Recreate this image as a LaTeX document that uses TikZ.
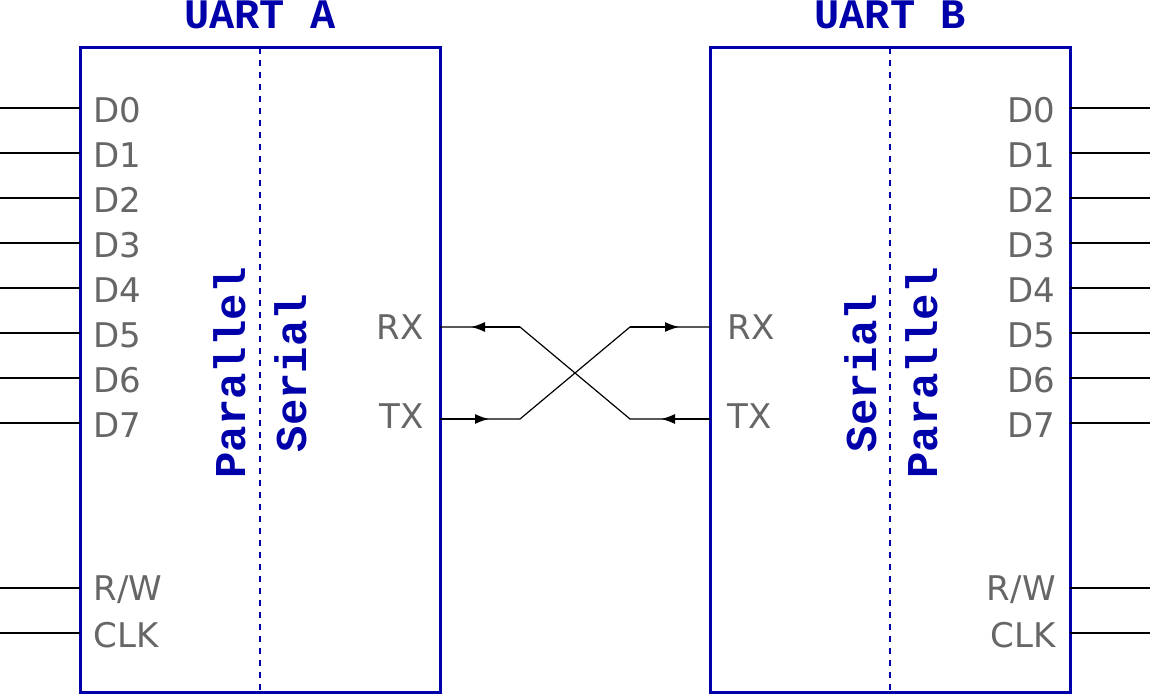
\documentclass[tikz,border=0pt]{standalone}
\usepackage{fontspec}
\setmainfont{DejaVu Sans}
\newfontfamily\monob{Liberation Mono}
\usetikzlibrary{arrows.meta}
\definecolor{uartblue}{RGB}{0, 0, 170}
\definecolor{pingray}{RGB}{102, 102, 102}
\tikzset{%
    uartbox/.style={draw=uartblue, line width=1.5pt},
    divider/.style={draw=uartblue, dashed, line width=0.9pt},
    pinlabel/.style={text=pingray, font=\fontsize{17}{17}\selectfont, inner sep=0pt},
    sidelabel/.style={text=uartblue, font=\monob\bfseries\fontsize{22}{22}\selectfont, rotate=90, inner sep=0pt},
    title/.style={text=uartblue, font=\monob\bfseries\fontsize{21}{21}\selectfont, inner sep=0pt, anchor=base},
    wire/.style={draw=black, line width=0.6pt},
    tip/.style={-{Latex[length=7pt, width=5pt]}}
}

\begin{document}
\begin{tikzpicture}[x=0.5pt, y=-0.5pt]
    \useasboundingbox (0, 0) rectangle (1150, 694);

    % UART A
    \draw[uartbox] (80, 48) rectangle (440, 692);
    \draw[divider] (260, 48) -- (260, 692);
    \node[title] (title-a) at (260, 29) {UART A};
    \node[sidelabel] (par-a) at (230, 373) {Parallel};
    \node[sidelabel] (ser-a) at (291, 373) {Serial};
    \foreach \val in {0, ..., 7}{%
        \coordinate (a-d\val) at (80, 108+\val*45);
        \coordinate (a-e\val) at (0, 108+\val*45);
        \node[pinlabel, anchor=west] at (93, 110+\val*45) {D\val};
        \draw[wire] (a-e\val) -- (a-d\val);
    };
    \foreach \val/\name/\txt in {588/rw/{R/W}, 633/clk/CLK}{%
        \coordinate (a-\name) at (80, \val);
        \coordinate (a-\name-end) at (0, \val);
        \node[pinlabel, anchor=west] at (93, \val+2) {\txt};
        \draw[wire] (a-\name-end) -- (a-\name);
    };
    \node[pinlabel, anchor=east] (a-rx-label) at (424, 327) {RX};
    \node[pinlabel, anchor=east] (a-tx-label) at (424, 416) {TX};
    \coordinate (a-rx) at (440, 327);
    \coordinate (a-tx) at (440, 419);

    % UART B
    \draw[uartbox] (710, 48) rectangle (1070, 692);
    \draw[divider] (890, 48) -- (890, 692);
    \node[title] (title-b) at (890, 29) {UART B};
    \node[sidelabel] (ser-b) at (861, 373) {Serial};
    \node[sidelabel] (par-b) at (922, 373) {Parallel};
    \foreach \val in {0, ..., 7}{%
        \coordinate (b-d\val) at (1070, 108+\val*45);
        \coordinate (b-e\val) at (1150, 108+\val*45);
        \node[pinlabel, anchor=east] at (1056, 110+\val*45) {D\val};
        \draw[wire] (b-d\val) -- (b-e\val);
    };
    \foreach \val/\name/\txt in {588/rw/{R/W}, 633/clk/CLK}{%
        \coordinate (b-\name) at (1070, \val);
        \coordinate (b-\name-end) at (1150, \val);
        \node[pinlabel, anchor=east] at (1056, \val+2) {\txt};
        \draw[wire] (b-\name) -- (b-\name-end);
    };
    \node[pinlabel, anchor=west] (b-rx-label) at (727, 327) {RX};
    \node[pinlabel, anchor=west] (b-tx-label) at (727, 416) {TX};
    \coordinate (b-rx) at (710, 327);
    \coordinate (b-tx) at (710, 419);

    % Crossed link
    \coordinate (a-rx-bend) at (520, 327);
    \coordinate (a-tx-bend) at (520, 419);
    \coordinate (b-rx-bend) at (630, 327);
    \coordinate (b-tx-bend) at (630, 419);
    \draw[wire] (a-rx) -- (a-rx-bend) -- (b-tx-bend) -- (b-tx);
    \draw[wire] (a-tx) -- (a-tx-bend) -- (b-rx-bend) -- (b-rx);
    \draw[wire, tip] (a-rx-bend) -- (471, 327);
    \draw[wire, tip] (a-tx) -- (489, 419);
    \draw[wire, tip] (b-rx-bend) -- (679, 327);
    \draw[wire, tip] (b-tx) -- (661, 419);

\end{tikzpicture}
\end{document}
